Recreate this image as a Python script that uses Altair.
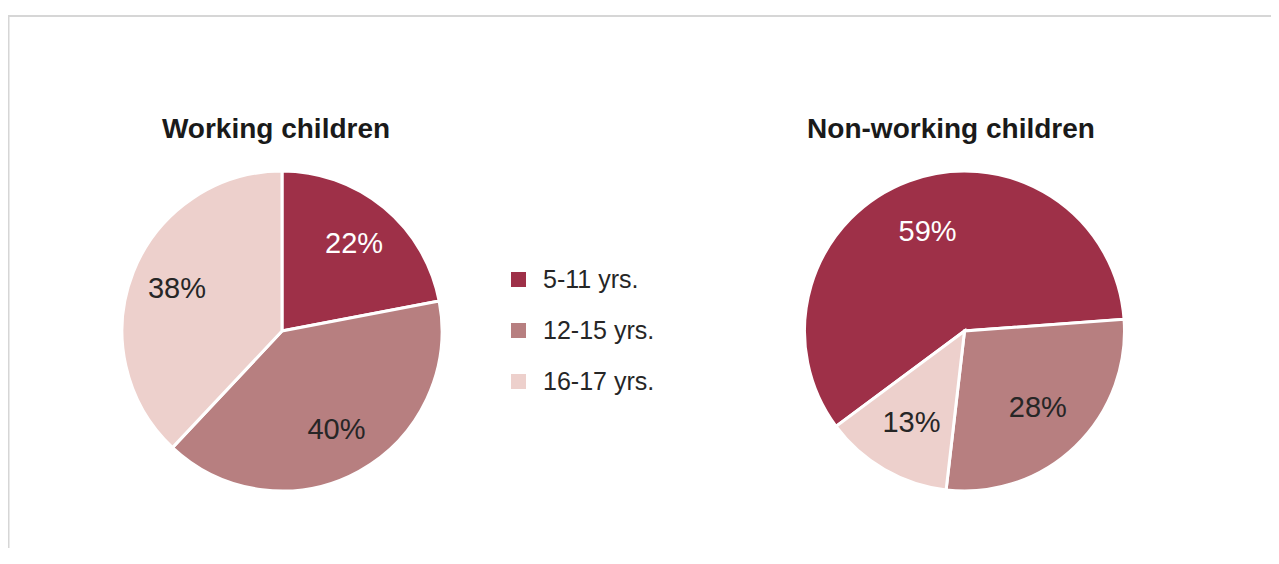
import math
import altair as alt
import pandas as pd

# ---- data ----
ages = ["5-11 yrs.", "12-15 yrs.", "16-17 yrs."]
working = [22, 40, 38]
nonworking = [59, 28, 13]
titles = ["Working children", "Non-working children"]
colors = ["#9E3048", "#B77F80", "#EDD0CC"]

FONT = "Liberation Sans, Arial, Helvetica, sans-serif"
W, H = 1263, 540


def frame(vals):
    return pd.DataFrame({
        "age": ages,
        "value": vals,
        "order": list(range(len(ages))),
        "label": [f"{v}%" for v in vals],
    })


color_enc = alt.Color(
    "age:N",
    scale=alt.Scale(domain=ages, range=colors),
    sort=ages,
    legend=alt.Legend(
        title=None,
        orient="none",
        legendX=498,
        legendY=259,
        symbolType="square",
        symbolSize=225,
        symbolStrokeWidth=0,
        symbolOpacity=1,
        labelFont=FONT,
        labelFontSize=25,
        labelColor="#262626",
        labelOffset=12,
        rowPadding=25,
        padding=0,
    ),
)


def pie(vals, cx, cy, start_deg, label_r):
    start = math.radians(start_deg)
    theta = alt.Theta(
        "value:Q", stack=True,
        scale=alt.Scale(range=[start, start + 2 * math.pi]),
    )
    base = alt.Chart(frame(vals)).encode(
        theta=theta,
        order=alt.Order("order:Q"),
        x=alt.value(cx),
        y=alt.value(cy),
    )
    arc = base.mark_arc(outerRadius=160, stroke="white", strokeWidth=3).encode(
        color=color_enc
    )
    text = base.mark_text(
        radius=label_r, fontSize=29, font=FONT, align="center", baseline="middle"
    ).encode(
        text="label:N",
        color=alt.condition(
            alt.datum.age == ages[0], alt.value("white"), alt.value("#262626")
        ),
    )
    return alt.layer(arc, text)


def title_text(t, cx):
    return alt.Chart(pd.DataFrame({"t": [t]})).mark_text(
        font=FONT, fontSize=28, fontWeight="bold", color="#1a1a1a",
        align="center", baseline="alphabetic",
    ).encode(text="t:N", x=alt.value(cx), y=alt.value(130))


one = pd.DataFrame({"a": [0]})
top_rule = alt.Chart(one).mark_rule(color="#d6d6d6", strokeWidth=2).encode(
    x=alt.value(0), x2=alt.value(W), y=alt.value(8)
)
left_rule = alt.Chart(one).mark_rule(color="#d6d6d6", strokeWidth=2).encode(
    x=alt.value(0.5), y=alt.value(7), y2=alt.value(H)
)

chart = alt.layer(
    top_rule,
    left_rule,
    pie(working, 274, 323, 0, 113),
    pie(nonworking, 956.5, 323, 233.4, 106),
    title_text(titles[0], 268),
    title_text(titles[1], 943),
).resolve_scale(theta="independent").properties(
    width=W, height=H, padding=0,
    autosize=alt.AutoSizeParams(type="none"),
).configure_view(stroke=None)

chart.save("out.html", embed_options={"renderer": "svg", "actions": False})
